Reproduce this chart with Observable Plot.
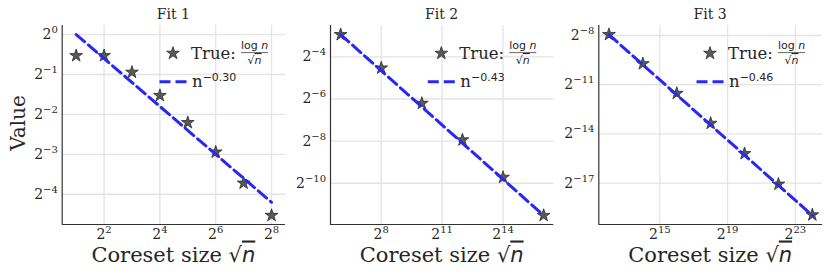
<!DOCTYPE html>
<html><head><meta charset="utf-8">
<script src="https://cdn.jsdelivr.net/npm/d3@7"></script>
<script src="https://cdn.jsdelivr.net/npm/@observablehq/plot@0.6"></script>
<style>
body{margin:0;background:#fff;}
#fig{position:relative;width:830px;height:277px;overflow:hidden;background:#fff;}
#fig svg{position:absolute;top:0;}
</style></head><body><div id="fig"></div>
<script>
// ---------- data ----------
const titles = ["Fit 1", "Fit 2", "Fit 3"];
const fitExponents = ["−0.30", "−0.43", "−0.46"];

// Fit 1
const size1 = [2, 4, 8, 16, 32, 64, 128, 256];
const true1 = [0.693, 0.693, 0.520, 0.347, 0.217, 0.130, 0.0758, 0.0433];
const fitX1 = [2, 256];
const fitY1 = [1.0, 0.0544];
const xTicks1 = [4, 16, 64, 256];
const yTicks1 = [1, 0.5, 0.25, 0.125, 0.0625];

// Fit 2
const size2 = [64, 256, 1024, 4096, 16384, 65536];
const true2 = [0.130, 0.0433, 0.01354, 0.00406, 0.001185, 0.000338];
const fitX2 = [64, 65536];
const fitY2 = [0.1303, 0.000338];
const xTicks2 = [256, 2048, 16384];
const yTicks2 = [0.0625, 0.015625, 0.00390625, 0.0009765625];

// Fit 3
const size3 = [4096, 16384, 65536, 262144, 1048576, 4194304, 16777216];
const true3 = [0.00406, 0.001185, 0.000338, 0.0000952, 0.00002644, 0.00000727, 0.000001983];
const fitX3 = [4096, 16777216];
const fitY3 = [0.004053, 0.00000194];
const xTicks3 = [32768, 524288, 8388608];
const yTicks3 = [2 ** -8, 2 ** -11, 2 ** -14, 2 ** -17];

// ---------- layout ----------
const H = 277, MT = 25, MB = 53;
const panels = [
  {left: 0,   width: 290, ml: 61.7, mr: 5,   xdom: [2 ** 0.5, 2 ** 8.5],  ydom: [2 ** -4.757, 2 ** 0.227],
   xs: size1, ys: true1, fx: fitX1, fy: fitY1, xt: xTicks1, yt: yTicks1, ylabel: true},
  {left: 285, width: 275, ml: 45,   mr: 6.7, xdom: [2 ** 5.5, 2 ** 16.5], ydom: [2 ** -11.96, 2 ** -2.51],
   xs: size2, ys: true2, fx: fitX2, fy: fitY2, xt: xTicks2, yt: yTicks2, ylabel: false},
  {left: 553, width: 277, ml: 45.3, mr: 8,   xdom: [2 ** 11.4, 2 ** 24.6], ydom: [2 ** -19.53, 2 ** -7.39],
   xs: size3, ys: true3, fx: fitX3, fy: fitY3, xt: xTicks3, yt: yTicks3, ylabel: false}
];

const SERIF = "DejaVu Serif", SANS = "DejaVu Sans";
const TXT = "#262626", STAR_FILL = "#595959", STAR_STROKE = "#2b2b2b";
const BLUE = "#2828f4", GRID = "#e4e4e4";
const pow2 = d => { const k = Math.round(Math.log2(d)); return "2^" + (k < 0 ? "−" + (-k) : k); };

function el(name, attrs, text) {
  const e = document.createElementNS("http://www.w3.org/2000/svg", name);
  for (const k in attrs) e.setAttribute(k, attrs[k]);
  if (text != null) e.textContent = text;
  return e;
}

panels.forEach((p, i) => {
  const fl = p.ml, fr = p.width - p.mr, fb = H - MB, cx = (fl + fr) / 2;
  const deco = () => {
    const g = el("g", {"font-family": SERIF, fill: TXT, "text-anchor": "start"});
    // title
    g.append(el("text", {x: cx, y: 19.3, "text-anchor": "middle", "font-size": 14}, titles[i]));
    // x label
    const xl = el("text", {x: cx, y: 261.5, "text-anchor": "middle", "font-size": 21});
    xl.append(el("tspan", {}, "Coreset size "));
    xl.append(el("tspan", {"font-family": SANS}, "√"));
    xl.append(el("tspan", {"font-family": SANS, "font-style": "italic", "text-decoration": "overline"}, "n"));
    g.append(xl);
    if (p.ylabel) {
      g.append(el("text", {transform: "translate(25,123) rotate(-90)", "text-anchor": "middle", "font-size": 20}, "Value"));
    }
    // legend
    const hc = fr - 112;
    g.append(el("path", {d: d3.symbol(d3.symbolStar, 16 * Math.PI)(), transform: `translate(${hc},${MT + 28.3})`,
      fill: STAR_FILL, stroke: STAR_STROKE, "stroke-width": 0.8}));
    g.append(el("text", {x: hc + 18, y: MT + 34, "font-size": 16.5, "text-anchor": "start"}, "True:"));
    const fc = hc + 81.5;
    const top = el("text", {x: fc, y: MT + 24.3, "text-anchor": "middle", "font-size": 11, "font-family": SANS});
    top.append(el("tspan", {}, "log "));
    top.append(el("tspan", {"font-style": "italic"}, "n"));
    g.append(top);
    g.append(el("line", {x1: hc + 68, x2: hc + 95, y1: MT + 27.6, y2: MT + 27.6, stroke: TXT, "stroke-width": 0.7}));
    const bot = el("text", {x: fc, y: MT + 39, "text-anchor": "middle", "font-size": 11, "font-family": SANS});
    bot.append(el("tspan", {}, "√"));
    bot.append(el("tspan", {"font-style": "italic", "text-decoration": "overline"}, "n"));
    g.append(bot);
    g.append(el("line", {x1: hc - 13.5, x2: hc + 13.5, y1: MT + 56.7, y2: MT + 56.7, stroke: BLUE,
      "stroke-width": 3, "stroke-dasharray": "11,5"}));
    const lt = el("text", {x: hc + 19, y: MT + 62.3, "font-size": 16.5, "text-anchor": "start"});
    lt.append(el("tspan", {}, "n"));
    lt.append(el("tspan", {dy: -6.6, "font-size": 11, "font-family": SANS}, fitExponents[i]));
    g.append(lt);
    return g;
  };

  const chart = Plot.plot({
    width: p.width, height: H,
    marginLeft: p.ml, marginRight: p.mr, marginTop: MT, marginBottom: MB,
    style: {fontFamily: SERIF, fontSize: "14px", color: TXT, background: "transparent", overflow: "visible", maxWidth: "none"},
    x: {type: "log", base: 2, domain: p.xdom},
    y: {type: "log", base: 2, domain: p.ydom},
    marks: [
      Plot.gridX(p.xt, {stroke: GRID, strokeOpacity: 1, strokeWidth: 1.3}),
      Plot.gridY(p.yt, {stroke: GRID, strokeOpacity: 1, strokeWidth: 1.3}),
      Plot.axisX(p.xt, {tickSize: 0, tickPadding: 4.6, fontSize: 14, tickFormat: pow2, label: null}),
      Plot.axisY(p.yt, {tickSize: 0, tickPadding: 4.4, fontSize: 14, tickFormat: pow2, label: null}),
      Plot.ruleX([p.xdom[0]], {stroke: "#333", strokeWidth: 1.2}),
      Plot.ruleY([p.ydom[0]], {stroke: "#333", strokeWidth: 1.2}),
      Plot.dot(p.xs, {x: p.xs, y: p.ys, symbol: "star", r: 4, fill: STAR_FILL, stroke: STAR_STROKE, strokeWidth: 0.8}),
      Plot.line(p.fx, {x: p.fx, y: p.fy, stroke: BLUE, strokeWidth: 3, strokeDasharray: "11,5"}),
      deco
    ]
  });
  // superscript tick labels
  chart.querySelectorAll('g[aria-label$="tick label"] text').forEach(t => {
    const s = t.textContent, j = s.indexOf("^");
    if (j < 0) return;
    t.textContent = "";
    t.append(el("tspan", {}, s.slice(0, j)));
    t.append(el("tspan", {dy: -6, "font-size": 10}, s.slice(j + 1)));
  });
  chart.style.left = p.left + "px";
  document.getElementById("fig").append(chart);
});
</script>
</body></html>
